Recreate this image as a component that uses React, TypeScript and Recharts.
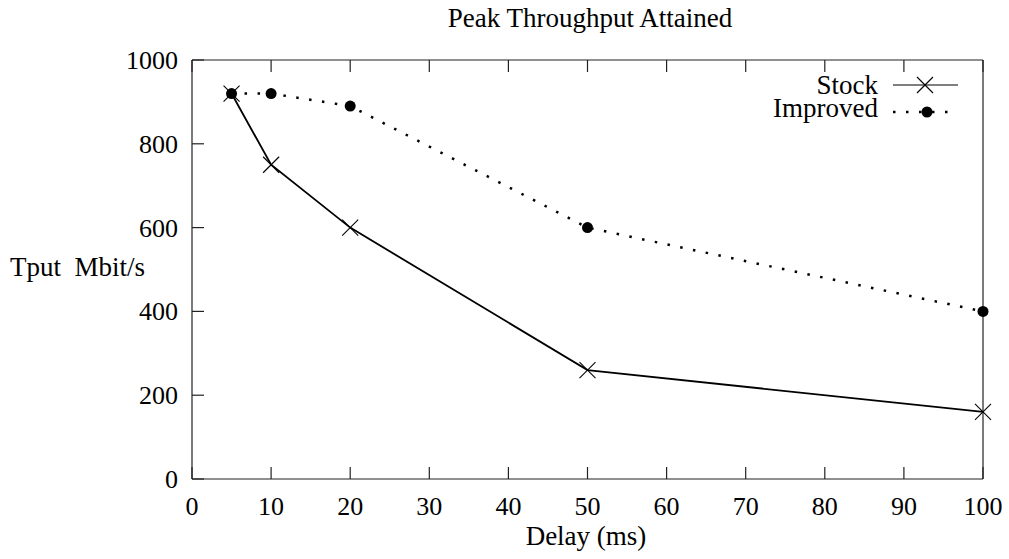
import React from "react";
import { LineChart, Line, XAxis, YAxis, Legend } from "recharts";

// values
const delays = [5, 10, 20, 50, 100];
const stockTput = [920, 750, 600, 260, 160];
const improvedTput = [920, 920, 890, 600, 400];
const xTicks = [0, 10, 20, 30, 40, 50, 60, 70, 80, 90, 100];
const yTicks = [0, 200, 400, 600, 800, 1000];

const data = delays.map((d, i) => ({
  delay: d,
  stock: stockTput[i],
  improved: improvedTput[i],
}));

const FONT = "Liberation Serif, DejaVu Serif, serif";
const W = 1009;
const H = 559;
const LEFT = 192;
const TOP = 60;
const RIGHT = 983;
const BOTTOM = 479;
const TICK = 12;
const FRAME = "#222";

const BottomTick = (props) => {
  const { x, payload } = props;
  return (
    <g>
      <line x1={x} y1={BOTTOM} x2={x} y2={BOTTOM - TICK} stroke={FRAME} strokeWidth={1.2} />
      <text x={x} y={515} textAnchor="middle" fontFamily={FONT} fontSize={26} fill="#000">
        {payload.value}
      </text>
    </g>
  );
};

const TopTick = (props) => {
  const { x } = props;
  return <line x1={x} y1={TOP} x2={x} y2={TOP + TICK} stroke={FRAME} strokeWidth={1.2} />;
};

const LeftTick = (props) => {
  const { y, payload } = props;
  return (
    <g>
      <line x1={LEFT} y1={y} x2={LEFT + TICK} y2={y} stroke={FRAME} strokeWidth={1.2} />
      <text x={178} y={y + 9} textAnchor="end" fontFamily={FONT} fontSize={26} fill="#000">
        {payload.value}
      </text>
    </g>
  );
};

const RightTick = (props) => {
  const { y } = props;
  return <line x1={RIGHT} y1={y} x2={RIGHT - TICK} y2={y} stroke={FRAME} strokeWidth={1.2} />;
};

const CrossDot = (props) => {
  const { cx, cy, index } = props;
  const s = 8;
  return (
    <g key={`x-${index}`}>
      <line x1={cx - s} y1={cy - s} x2={cx + s} y2={cy + s} stroke="#000" strokeWidth={1.1} />
      <line x1={cx - s} y1={cy + s} x2={cx + s} y2={cy - s} stroke="#000" strokeWidth={1.1} />
    </g>
  );
};

const FilledDot = (props) => {
  const { cx, cy, index } = props;
  return <circle key={`o-${index}`} cx={cx} cy={cy} r={5.5} fill="#000" />;
};

// legend box sits at page (760, 60)
const KeyBox = () => (
  <svg width={240} height={64} style={{ display: "block", overflow: "visible" }}>
    <text x={118} y={34} textAnchor="end" fontFamily={FONT} fontSize={27}>Stock</text>
    <line x1={133} y1={25} x2={198} y2={25} stroke="#000" strokeWidth={1.2} />
    <line x1={157} y1={17} x2={173} y2={33} stroke="#000" strokeWidth={1.1} />
    <line x1={157} y1={33} x2={173} y2={17} stroke="#000" strokeWidth={1.1} />
    <text x={118} y={57} textAnchor="end" fontFamily={FONT} fontSize={27}>Improved</text>
    <line x1={133} y1={52} x2={198} y2={52} stroke="#000" strokeWidth={2.5} strokeDasharray="2.5 10.5" />
    <circle cx={167} cy={52} r={5.5} fill="#000" />
  </svg>
);

export default function App() {
  return (
    <div style={{ position: "absolute", left: 0, top: 0, width: W, height: H, background: "#fff" }}>
      <LineChart
        width={W}
        height={H}
        data={data}
        margin={{ top: TOP - 1, right: W - RIGHT - 1, bottom: H - BOTTOM - 1, left: LEFT - 1 }}
      >
        <XAxis
          xAxisId="bottom"
          dataKey="delay"
          type="number"
          domain={[0, 100]}
          ticks={xTicks}
          interval={0}
          height={1}
          tickSize={0}
          tickMargin={0}
          tickLine={false}
          tick={<BottomTick />}
          axisLine={{ stroke: FRAME, strokeWidth: 1.2 }}
        />
        <XAxis
          xAxisId="top"
          orientation="top"
          dataKey="delay"
          type="number"
          domain={[0, 100]}
          ticks={xTicks}
          interval={0}
          height={1}
          tickSize={0}
          tickLine={false}
          tick={<TopTick />}
          axisLine={{ stroke: FRAME, strokeWidth: 1.2 }}
        />
        <YAxis
          yAxisId="left"
          type="number"
          domain={[0, 1000]}
          ticks={yTicks}
          interval={0}
          width={1}
          tickSize={0}
          tickMargin={0}
          tickLine={false}
          tick={<LeftTick />}
          axisLine={{ stroke: FRAME, strokeWidth: 1.2 }}
        />
        <YAxis
          yAxisId="right"
          orientation="right"
          type="number"
          domain={[0, 1000]}
          ticks={yTicks}
          interval={0}
          width={1}
          tickSize={0}
          tickLine={false}
          tick={<RightTick />}
          axisLine={{ stroke: FRAME, strokeWidth: 1.2 }}
        />
        <Legend
          layout="horizontal"
          verticalAlign="middle"
          align="center"
          content={<KeyBox />}
          wrapperStyle={{ left: 760, top: 60, width: 240, height: 64 }}
        />
        <Line
          xAxisId="bottom"
          yAxisId="left"
          dataKey="stock"
          name="Stock"
          stroke="#000"
          strokeWidth={1.8}
          dot={<CrossDot />}
          activeDot={false}
          isAnimationActive={false}
        />
        <Line
          xAxisId="bottom"
          yAxisId="left"
          dataKey="improved"
          name="Improved"
          stroke="#000"
          strokeWidth={2.5}
          strokeDasharray="2.5 10.5"
          dot={<FilledDot />}
          activeDot={false}
          isAnimationActive={false}
        />
      </LineChart>
      <svg
        width={W}
        height={H}
        style={{ position: "absolute", left: 0, top: 0, pointerEvents: "none" }}
      >
        <text x={590} y={27} textAnchor="middle" fontFamily={FONT} fontSize={27}>
          Peak Throughput Attained
        </text>
        <text x={586} y={545} textAnchor="middle" fontFamily={FONT} fontSize={27}>
          Delay (ms)
        </text>
        <text x={10} y={276} fontFamily={FONT} fontSize={27} style={{ whiteSpace: "pre" }}>
          {"Tput  Mbit/s"}
        </text>
      </svg>
    </div>
  );
}
